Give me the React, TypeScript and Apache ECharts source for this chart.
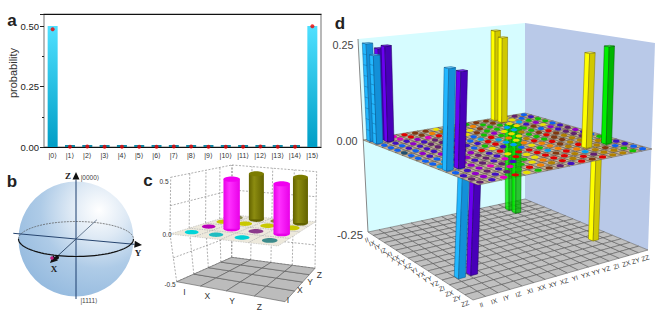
import React, { useEffect, useRef } from "react";
import * as echarts from "echarts";

const FONT = "'Liberation Sans', 'DejaVu Sans', sans-serif";
const SERIF = "'Liberation Serif', 'DejaVu Serif', serif";

// ---------- panel a ----------
const basisLabels = ["|0⟩","|1⟩","|2⟩","|3⟩","|4⟩","|5⟩","|6⟩","|7⟩","|8⟩","|9⟩","|10⟩","|11⟩","|12⟩","|13⟩","|14⟩","|15⟩"];
const idealProb = [0.5,0,0,0,0,0,0,0,0,0,0,0,0,0,0,0.5];
const measuredProb = [0.487,0.001,0.002,0.001,0.001,0.001,0.001,0.002,0.002,0.001,0.001,0.001,0.002,0.001,0.001,0.499];

// ---------- panel b ----------
const blochAxisNames = ["X", "Y", "Z"];
const blochPoles = ["|0000⟩", "|1111⟩"];

// ---------- panel c ----------
const pauli = ["I", "X", "Y", "Z"];
const cHeights = [
  [0, 0, 0, 0],
  [0, 0.46, 0, 0.45],
  [0, 0, 0, 0],
  [0, 0.46, 0, 0.45],
];
const cColors = [
  ["#00d4d8", "#b800b8", "#c8c800", "#8a8a50"],
  ["#20bcc0", "#ff00ff", "#c8c800", "#808000"],
  ["#00d0d4", "#8c3a8c", "#c8c800", "#8a8a30"],
  ["#3c8a8a", "#ff00ff", "#c8c800", "#808000"],
];
const cTicks = ["0.5", "0.0", "-0.5"];

// ---------- panel d ----------
const pauliPairs = ["II","IX","IY","IZ","XI","XX","XY","XZ","YI","YX","YY","YZ","ZI","ZX","ZY","ZZ"];
const dBarRows = [0, 1, 0, 1, 11, 11, 0, 1, 12, 12, 13, 13, 2, 3, 12];
const dBarCols = [0, 0, 1, 1, 0, 1, 12, 12, 12, 14, 0, 1, 12, 12, 13];
const dBarVals = [0.24, 0.215, 0.225, 0.235, 0.225, 0.215, 0.24, 0.225, 0.225, 0.235, -0.23, -0.23, -0.24, -0.24, -0.24];
const dBarHues = ["c", "c", "v", "v", "c", "v", "y", "y", "y", "g", "c", "v", "g", "g", "y"];
const dTicks = ["0.25", "0.00", "-0.25"];
const dPhases = [
  "bvmrnnydygnnaykb",
  "bvmrnoaayognkybv",
  "bvvpmrroynggylgg",
  "bbpvkroyngglyvpg",
  "bvvkkvrbgpylgnyb",
  "dbvkvpblrgyagbpv",
  "bpvkrvvrloygnrvk",
  "bvpvkbgrlyagrnkp",
  "bbvkpryvlorgnakv",
  "blvpkvrgbyornakb",
  "lbpvkvyrrgonaalg",
  "blpkvmryrloaraag",
  "bvpmkvgyrnroaagv",
  "vpkvmgyorralanbv",
  "kpvkgroararkaagb",
  "kvmrygnkvrnraagb",
];

// ---------- layout of the projections (not data) ----------
type P = [number, number];
type Quad = [P, P, P, P];
const cFloor: Quad = [[176.7, 281.7], [285, 301.7], [315, 268.3], [231.7, 257.3]];
const cMid: Quad = [[170, 234], [278, 246], [315.7, 221.7], [232, 215]];
const cTop: Quad = [[170.7, 177.3], [282, 188], [316.7, 171.7], [232, 165]];
const dFloor: Quad = [[368, 232], [473, 300], [648, 250], [525, 199]];
const dMid: Quad = [[363, 140], [478, 185], [652, 149], [525, 113]];
const dTop: Quad = [[358, 39], [483, 65], [655, 43], [525, 23]];

const PALETTE: Record<string, string> = {
  r: "#e00000", o: "#f08000", y: "#e8e000", g: "#10c000", l: "#00a0f0", b: "#1060f0",
  v: "#4010c0", p: "#9000c8", m: "#e000c0", n: "#803810", k: "#602070", d: "#205070", a: "#b08000",
};
const HUES: Record<string, [string, string, string, string]> = {
  c: ["#22b8ff", "#1390d8", "#6fd2ff", "#0a5a90"],
  v: ["#6a00f0", "#4800b8", "#8a30ff", "#1c0060"],
  y: ["#ffff00", "#d0c800", "#ffff70", "#7a7000"],
  g: ["#00f000", "#00b400", "#50ff50", "#006000"],
};

function homography(q: Quad) {
  const [[x0, y0], [x1, y1], [x2, y2], [x3, y3]] = q;
  const dx1 = x1 - x2, dx2 = x3 - x2, sx = x0 - x1 + x2 - x3;
  const dy1 = y1 - y2, dy2 = y3 - y2, sy = y0 - y1 + y2 - y3;
  const den = dx1 * dy2 - dx2 * dy1;
  const g = (sx * dy2 - dx2 * sy) / den;
  const h = (dx1 * sy - sx * dy1) / den;
  const a = x1 - x0 + g * x1, b = x3 - x0 + h * x3;
  const d = y1 - y0 + g * y1, e = y3 - y0 + h * y3;
  return (u: number, v: number): P => {
    const w = g * u + h * v + 1;
    return [(a * u + b * v + x0) / w, (d * u + e * v + y0) / w];
  };
}
function cage(floor: Quad, mid: Quad, top: Quad) {
  const F = homography(floor), M = homography(mid), T = homography(top);
  return (u: number, v: number, level: number): P => {
    const m = M(u, v);
    const o = level >= 0 ? T(u, v) : F(u, v);
    const k = Math.abs(level);
    return [m[0] + (o[0] - m[0]) * k, m[1] + (o[1] - m[1]) * k];
  };
}
const cP = cage(cFloor, cMid, cTop);
const dP = cage(dFloor, dMid, dTop);

const on = (api: any, p: P): number[] => api.coord([p[0], p[1]]);
const poly = (api: any, pts: P[], style: any) => ({ type: "polygon", shape: { points: pts.map((p) => on(api, p)) }, style });
const seg = (api: any, a: P, b: P, style: any) => {
  const A = on(api, a), B = on(api, b);
  return { type: "line", shape: { x1: A[0], y1: A[1], x2: B[0], y2: B[1] }, style };
};
const txt = (api: any, p: P, text: string, style: any, rotation = 0) => {
  const c = on(api, p);
  return { type: "text", x: c[0], y: c[1], rotation, style: { text, align: "center", verticalAlign: "middle", fontFamily: FONT, ...style } };
};

let zCounter = 10;
function layer(name: string, data: any[], render: (i: number, api: any) => any) {
  return {
    type: "custom", name, xAxisIndex: 2, yAxisIndex: 1, silent: true, clip: false, z: zCounter++,
    data,
    renderItem: (params: any, api: any) => render(params.dataIndex, api),
  };
}

function cells(n: number) {
  const out: number[][] = [];
  for (let r = 0; r < n; r++) for (let c = 0; c < n; c++) out.push([r, c]);
  return out;
}

// ---------- panel b layers ----------
const B_O: P = [76, 239];
const bVec: Record<string, P> = { X: [-26, 24], Y: [66, 6], Z: [0, -67] };
function arrow(api: any, from: P, to: P, color: string, w: number, head = 5) {
  const dx = to[0] - from[0], dy = to[1] - from[1], l = Math.hypot(dx, dy);
  const ux = dx / l, uy = dy / l;
  const base: P = [to[0] - ux * head * 1.5, to[1] - uy * head * 1.5];
  return [
    seg(api, from, base, { stroke: color, lineWidth: w }),
    poly(api, [to, [base[0] - uy * head * 0.7, base[1] + ux * head * 0.7], [base[0] + uy * head * 0.7, base[1] - ux * head * 0.7]], { fill: "#111" }),
  ];
}
function ring(api: any, from: number, to: number, style: any) {
  const pts: number[][] = [];
  for (let k = 0; k <= 48; k++) {
    const a = from + ((to - from) * k) / 48;
    pts.push(on(api, [B_O[0] + 57.5 * Math.cos(a), B_O[1] + 17.5 * Math.sin(a)]));
  }
  return { type: "polyline", shape: { points: pts }, style: { fill: "none", ...style } };
}
const panelB = [
  layer("bloch-sphere", [[0, 0, 1]], (_i, api) => {
    const c = on(api, B_O);
    return {
      type: "group",
      children: [
        {
          type: "circle", shape: { cx: c[0], cy: c[1], r: 57.5 },
          style: { fill: new echarts.graphic.RadialGradient(0.7, 0.25, 0.85, [
            { offset: 0, color: "#ffffff" }, { offset: 0.28, color: "#dfeaf5" }, { offset: 0.6, color: "#aecbe7" }, { offset: 1, color: "#93b9de" },
          ]) },
        },
        ring(api, Math.PI, 2 * Math.PI, { stroke: "#555", lineWidth: 0.7, lineDash: [2, 1] }),
        seg(api, [B_O[0] - bVec.Y[0] * 0.95, B_O[1] - bVec.Y[1] * 0.95], B_O, { stroke: "#27456f", lineWidth: 1 }),
        seg(api, B_O, [B_O[0] - bVec.X[0] * 0.8, B_O[1] - bVec.X[1] * 0.8], { stroke: "#4a5f7a", lineWidth: 0.8 }),
        seg(api, [B_O[0], B_O[1] + 60], B_O, { stroke: "#1c3f6e", lineWidth: 1 }),
        ...arrow(api, B_O, [B_O[0] + bVec.Z[0], B_O[1] + bVec.Z[1]], "#1c3f6e", 1),
        ...arrow(api, B_O, [B_O[0] + bVec.Y[0], B_O[1] + bVec.Y[1]], "#27456f", 1),
        ...arrow(api, B_O, [B_O[0] + bVec.X[0], B_O[1] + bVec.X[1]], "#37506f", 1),
        ring(api, 0, Math.PI, { stroke: "#111", lineWidth: 1.2 }),
        { type: "circle", shape: { cx: c[0] - 19, cy: c[1] + 18.5, r: 2 }, style: { fill: "#111" } },
        { type: "circle", shape: { cx: c[0] - 24, cy: c[1] + 19, r: 1.8 }, style: { fill: "#c02080" } },
      ],
    };
  }),
  layer("bloch-labels", blochAxisNames.map((_, i) => [i]), (i, api) => {
    const pos: Record<string, P> = { X: [54, 269], Y: [138, 253], Z: [68, 176] };
    return txt(api, pos[blochAxisNames[i]], blochAxisNames[i], { fontFamily: SERIF, fontWeight: "bold", fontSize: 9, fill: "#222" });
  }),
  layer("bloch-poles", blochPoles.map((_, i) => [i]), (i, api) =>
    txt(api, i === 0 ? [90, 177] : [89, 300], blochPoles[i], { fontSize: 6.5, fill: "#444" })),
];

// ---------- panel c layers ----------
const cDash = { stroke: "#777", lineWidth: 0.6, lineDash: [2, 1.5] };
function cylinder(api: any, base: P, top: P, rx: number, ry: number, colors: string[]) {
  const b = on(api, base), t = on(api, top);
  return {
    type: "group",
    children: [
      { type: "ellipse", shape: { cx: b[0], cy: b[1], rx, ry }, style: { fill: colors[1] } },
      {
        type: "rect", shape: { x: b[0] - rx, y: t[1], width: 2 * rx, height: b[1] - t[1] },
        style: { fill: new echarts.graphic.LinearGradient(0, 0, 1, 0, [
          { offset: 0, color: colors[1] }, { offset: 0.35, color: colors[0] }, { offset: 1, color: colors[1] },
        ]) },
      },
      { type: "ellipse", shape: { cx: b[0], cy: t[1], rx, ry }, style: { fill: colors[2] } },
    ],
  };
}
const panelC = [
  layer("c-cage", [[0]], (_i, api) => {
    const ch: any[] = [];
    for (let k = 0; k <= 4; k++) {
      const t = k / 4;
      ch.push(seg(api, cP(0, t, -1), cP(0, t, 0), cDash), seg(api, cP(0, t, 0), cP(0, t, 1), cDash));
      ch.push(seg(api, cP(t, 1, -1), cP(t, 1, 0), cDash), seg(api, cP(t, 1, 0), cP(t, 1, 1), cDash));
    }
    [-1, -0.5, 0.5, 1].forEach((l) => {
      ch.push(seg(api, cP(0, 0, l), cP(0, 1, l), cDash), seg(api, cP(0, 1, l), cP(1, 1, l), cDash));
    });
    return { type: "group", children: ch };
  }),
  layer("c-floor", cells(4), (_i, api) => {
    const r = api.value(0), c = api.value(1);
    return poly(api, [cP(r / 4, c / 4, -1), cP((r + 1) / 4, c / 4, -1), cP((r + 1) / 4, (c + 1) / 4, -1), cP(r / 4, (c + 1) / 4, -1)], { fill: "#bcbcbc", stroke: "#555", lineWidth: 0.6 });
  }),
  layer("c-plane", cells(4), (_i, api) => {
    const r = api.value(0), c = api.value(1);
    return poly(api, [cP(r / 4, c / 4, 0), cP((r + 1) / 4, c / 4, 0), cP((r + 1) / 4, (c + 1) / 4, 0), cP(r / 4, (c + 1) / 4, 0)], { fill: "#ede9dc", stroke: "#aaa", lineWidth: 0.5, lineDash: [1.5, 1] });
  }),
  layer("c-discs", cells(4).filter(([r, c]) => cHeights[r][c] === 0), (_i, api) => {
    const r = api.value(0), c = api.value(1);
    const p = on(api, cP((r + 0.5) / 4, (c + 0.5) / 4, 0));
    const s = 0.9 + 0.12 * (r / 3);
    return { type: "ellipse", shape: { cx: p[0], cy: p[1], rx: 7.6 * s, ry: 2.3 * s }, style: { fill: cColors[r][c] } };
  }),
  layer("c-bars", cells(4).filter(([r, c]) => cHeights[r][c] !== 0).sort((a, b) => b[1] - a[1] || a[0] - b[0]), (_i, api) => {
    const r = api.value(0), c = api.value(1);
    const lvl = cHeights[r][c] / 0.5;
    const u = (r + 0.5) / 4, v = (c + 0.5) / 4;
    const isMag = cColors[r][c] === "#ff00ff";
    return cylinder(api, cP(u, v, 0), cP(u, v, lvl), isMag ? 8.2 : 7.5, 2.6,
      isMag ? ["#ff30ff", "#e800e8", "#f000f0"] : ["#8c8c10", "#626200", "#7c7c00"]);
  }),
  layer("c-ticks", cTicks.map((_, i) => [i]), (i, api) => {
    const pos: P[] = [[164, 181.5], [167, 234], [170, 284]];
    return txt(api, pos[i], cTicks[i], { fontSize: 6.5, fill: "#333" });
  }),
  layer("c-left-labels", pauli.map((_, i) => [i]), (i, api) => {
    const p = cP((i + 0.5) / 4, 0, -1);
    return txt(api, [p[0] - 4 - i * 2, p[1] + 8], pauli[i], { fontSize: 8.5, fill: "#333" });
  }),
  layer("c-right-labels", pauli.map((_, i) => [i]), (i, api) => {
    const p = cP(1, (i + 0.5) / 4, -1);
    return txt(api, [p[0] + 7 - (3 - i) * 3, p[1] + 4], pauli[i], { fontSize: 8.5, fill: "#333" });
  }),
];

// ---------- panel d layers ----------
const N = 16;
function dBar(i: number, api: any, alpha = 1) {
  const r = dBarRows[i], c = dBarCols[i], val = dBarVals[i] / 0.25;
  const col = HUES[dBarHues[i]];
  const w = 0.28;
  const u0 = (r + 0.5 - w) / N, u1 = (r + 0.5 + w) / N, v0 = (c + 0.5 - w) / N, v1 = (c + 0.5 + w) / N;
  const edge = { stroke: col[3], lineWidth: 0.5, opacity: alpha };
  const mesh: any[] = [];
  if (r <= 1 && c === 0) {
    for (let k = 1; k <= 8; k++) {
      const l = (val * k) / 9;
      mesh.push(seg(api, dP(u0, v0, l), dP(u1, v0, l), { stroke: col[3], lineWidth: 0.4 }));
    }
  }
  return {
    type: "group",
    children: [
      poly(api, [dP(u0, v0, 0), dP(u1, v0, 0), dP(u1, v0, val), dP(u0, v0, val)], { fill: col[0], ...edge }),
      poly(api, [dP(u1, v0, 0), dP(u1, v1, 0), dP(u1, v1, val), dP(u1, v0, val)], { fill: col[1], ...edge }),
      ...mesh,
      ...(val > 0 ? [poly(api, [dP(u0, v0, val), dP(u1, v0, val), dP(u1, v1, val), dP(u0, v1, val)], { fill: col[2], ...edge })] : []),
    ],
  };
}
const barOrder = dBarRows.map((_, i) => i).sort((a, b) => dBarRows[a] - dBarRows[b] || dBarCols[b] - dBarCols[a]);
const panelD = [
  layer("d-walls", [[0], [1]], (i, api) => i === 0
    ? poly(api, [dP(0, 0, -1), dP(0, 1, -1), dP(0, 1, 1), dP(0, 0, 1)], { fill: "#d6fcff" })
    : poly(api, [dP(0, 1, -1), dP(1, 1, -1), dP(1, 1, 1), dP(0, 1, 1)], { fill: "#b9c9e8" })),
  layer("d-edge", [[0]], (_i, api) => seg(api, dP(0, 0, 1), dP(0, 0, -1), { stroke: "#888", lineWidth: 1 })),
  layer("d-floor", cells(N), (_i, api) => {
    const r = api.value(0), c = api.value(1);
    return poly(api, [dP(r / N, c / N, -1), dP((r + 1) / N, c / N, -1), dP((r + 1) / N, (c + 1) / N, -1), dP(r / N, (c + 1) / N, -1)], { fill: "#c0c0c0", stroke: "#4c4c4c", lineWidth: 0.5 });
  }),
  layer("d-neg-bars", barOrder.filter((i) => dBarVals[i] < 0 && dBarHues[i] !== "g").map((i) => [i]), (_i, api) => dBar(api.value(0), api)),
  layer("d-plane", cells(N), (_i, api) => {
    const r = api.value(0), c = api.value(1);
    return poly(api, [dP(r / N, c / N, 0), dP((r + 1) / N, c / N, 0), dP((r + 1) / N, (c + 1) / N, 0), dP(r / N, (c + 1) / N, 0)], { fill: "#c6b69e", stroke: "#5a4e40", lineWidth: 0.5 });
  }),
  layer("d-green-bars", barOrder.filter((i) => dBarVals[i] < 0 && dBarHues[i] === "g").map((i) => [i]), (_i, api) => dBar(api.value(0), api, 0.8)),
  layer("d-discs", cells(N), (_i, api) => {
    const r = api.value(0), c = api.value(1);
    const u = (r + 0.5) / N, v = (c + 0.5) / N;
    const p = on(api, dP(u, v, 0));
    const a = dP(u - 0.03, v - 0.03, 0), b = dP(u + 0.03, v + 0.03, 0);
    const rx = Math.abs(b[0] - a[0]) * 0.16 + 0.7;
    return { type: "ellipse", shape: { cx: p[0], cy: p[1], rx, ry: rx * 0.45 }, style: { fill: PALETTE[dPhases[r][c]] } };
  }),
  layer("d-pos-bars", barOrder.filter((i) => dBarVals[i] > 0).map((i) => [i]), (_i, api) => dBar(api.value(0), api)),
  layer("d-ticks", dTicks.map((_, i) => [i]), (i, api) => {
    const pos: P[] = [[343, 45], [347, 141], [350, 235]];
    return txt(api, pos[i], dTicks[i], { fontSize: i === 2 ? 11.5 : 10.8, fill: "#444" });
  }),
  layer("d-left-labels", pauliPairs.map((_, i) => [i]), (i, api) => {
    const p = dP((i + 0.5) / N, 0, -1);
    return txt(api, [p[0] - 4, p[1] + 6], pauliPairs[i], { fontSize: 6.5, fill: "#333" }, 0.3);
  }),
  layer("d-right-labels", pauliPairs.map((_, i) => [i]), (i, api) => {
    const p = dP(1, (i + 0.5) / N, -1);
    return txt(api, [p[0] + 2, p[1] + 6.5], pauliPairs[i], { fontSize: 6.5, fill: "#333" }, 0.3);
  }),
];

const panelLetters = [
  { t: "a", x: 12, y: 20 }, { t: "b", x: 12, y: 181 }, { t: "c", x: 148, y: 180 }, { t: "d", x: 340, y: 23 },
];

export default function App() {
  const ref = useRef<HTMLDivElement>(null);
  useEffect(() => {
    document.body.style.margin = "0";
    const chart = echarts.init(ref.current!, null, { renderer: "svg" });
    const barGradient = new echarts.graphic.LinearGradient(0, 0, 0, 1, [
      { offset: 0, color: "#4fe0ff" }, { offset: 1, color: "#009ec6" },
    ]);
    chart.setOption({
      animation: false,
      backgroundColor: "#fff",
      grid: [
        { left: 44, top: 14, width: 277, height: 133, show: true, borderColor: "#8a8a8a", borderWidth: 1.2, backgroundColor: "transparent" },
        { left: 0, top: 0, width: 665, height: 316 },
      ],
      xAxis: [
        {
          type: "category", gridIndex: 0, data: basisLabels, offset: 2,
          axisLine: { lineStyle: { color: "#111", width: 1 } },
          axisTick: { alignWithLabel: true, length: 2, lineStyle: { color: "#111" } },
          axisLabel: { fontSize: 7, color: "#333", fontFamily: FONT, margin: 3, interval: 0 },
        },
        {
          type: "category", gridIndex: 0, position: "top", data: basisLabels,
          axisLine: { lineStyle: { color: "#111", width: 1 } }, axisTick: { show: false }, axisLabel: { show: false },
        },
        { type: "value", gridIndex: 1, min: 0, max: 665, show: false },
      ],
      yAxis: [
        {
          type: "value", gridIndex: 0, min: 0, max: 0.55, interval: 0.25,
          axisLine: { show: false },
          axisTick: { show: true, length: 4, lineStyle: { color: "#222" } },
          minorTick: { show: true, splitNumber: 2, length: 2, lineStyle: { color: "#222" } },
          splitLine: { show: false },
          axisLabel: {
            fontSize: 9.5, color: "#222", fontFamily: FONT, margin: 5, showMaxLabel: false,
            formatter: (v: number) => (v <= 0.5 ? v.toFixed(2) : ""),
          },
        },
        { type: "value", gridIndex: 1, min: 0, max: 316, inverse: true, show: false },
      ],
      series: [
        {
          type: "bar", xAxisIndex: 0, yAxisIndex: 0, barWidth: 10, barMinHeight: 2, z: 3, silent: true,
          data: idealProb.map((v) => ({ value: v, itemStyle: { color: v > 0 ? barGradient : "#0f87a4" } })),
        },
        {
          type: "scatter", xAxisIndex: 0, yAxisIndex: 0, symbolSize: 4, z: 5, silent: true,
          itemStyle: { color: "#f00000" }, data: measuredProb.map((v, i) => [i, v]),
        },
        ...panelB, ...panelC, ...panelD,
      ],
      graphic: [
        { type: "text", x: 13, y: 73, rotation: Math.PI / 2, style: { text: "probability", fontSize: 11, fill: "#333", fontFamily: FONT, align: "center", verticalAlign: "middle" }, z: 100 },
        ...panelLetters.map((l) => ({
          type: "text", x: l.x, y: l.y, z: 100,
          style: { text: l.t, fontSize: 17, fontWeight: "bold", fill: "#222", fontFamily: FONT, align: "center", verticalAlign: "middle" },
        })),
      ],
    });
    return () => chart.dispose();
  }, []);
  return <div ref={ref} style={{ width: 665, height: 316 }} />;
}
